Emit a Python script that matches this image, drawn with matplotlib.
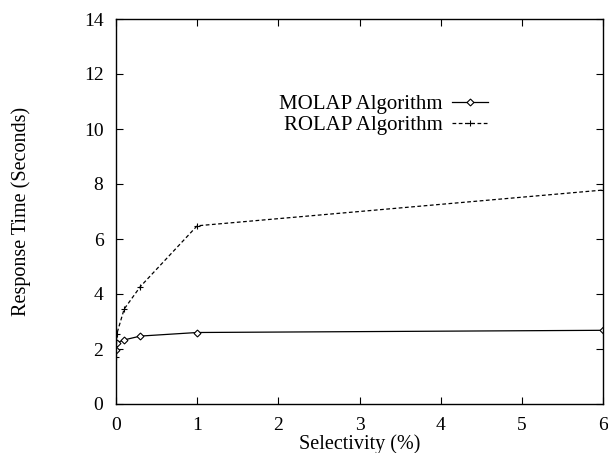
import matplotlib
matplotlib.use("Agg")
import matplotlib.pyplot as plt

molap_x = [0.001, 0.01, 0.1, 0.3, 1, 6]
molap_y = [1.96, 2.23, 2.33, 2.47, 2.6, 2.68]
rolap_x = [0.001, 0.01, 0.1, 0.3, 1, 6]
rolap_y = [1.7, 2.55, 3.45, 4.27, 6.48, 7.78]
xticks = [0, 1, 2, 3, 4, 5, 6]
yticks = [0, 2, 4, 6, 8, 10, 12, 14]

plt.rcParams['font.family'] = ['Liberation Serif', 'DejaVu Serif']
fig = plt.figure(figsize=(6.08, 4.53), dpi=100)
ax = fig.add_axes([116/608, 1-404/453, (603-116)/608, (404-19)/453])

ax.plot(molap_x, molap_y, color='black', lw=0.9, marker='D', ms=3.5,
        mfc='white', mec='black', mew=0.8, label='MOLAP Algorithm')
ax.plot(rolap_x, rolap_y, color='black', lw=0.9, ls=(0, (3, 2)), marker='+',
        ms=5, mew=0.8, label='ROLAP Algorithm')

ax.set_xlim(0, 6)
ax.set_ylim(0, 14)
ax.set_xticks(xticks)
ax.set_yticks(yticks)
ax.tick_params(direction='in', top=True, right=True, length=5, width=0.8,
               labelsize=14, pad=9)
for s in ax.spines.values():
    s.set_linewidth(1.0)
ax.set_xlabel('Selectivity (%)', fontsize=14.5, va='top')
ax.xaxis.set_label_coords(0.5, -0.078)
ax.set_ylabel('Response Time (Seconds)', fontsize=14.5)
ax.yaxis.set_label_coords(-0.174, 0.5)

ax.legend(loc='upper right', bbox_to_anchor=(0.764, 0.803), frameon=False,
          markerfirst=False, fontsize=15, handlelength=1.75, handletextpad=0.43,
          labelspacing=0.05, borderaxespad=0, borderpad=0)

fig.savefig('out.png', dpi=100)
